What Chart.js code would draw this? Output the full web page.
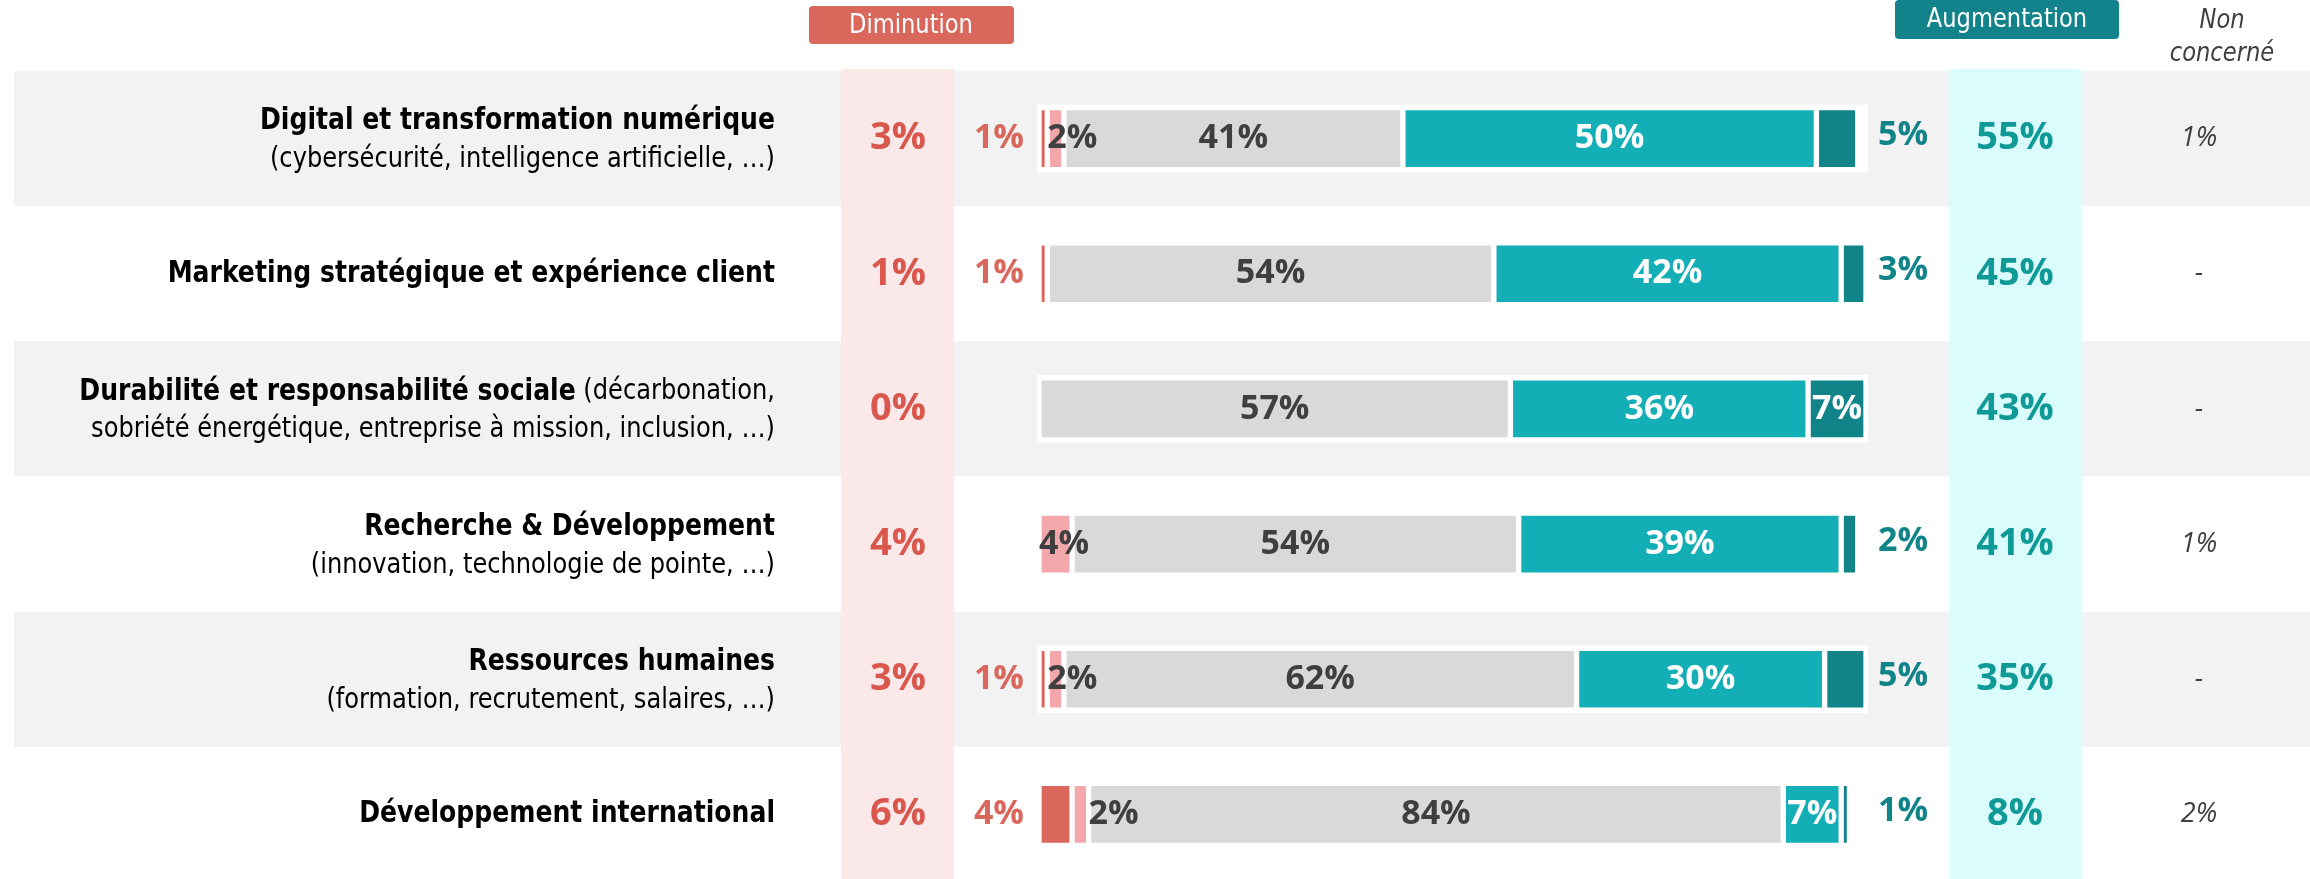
<!DOCTYPE html>
<html lang="fr">
<head>
<meta charset="utf-8">
<title>Évolution des budgets par thème</title>
<script src="https://cdn.jsdelivr.net/npm/chart.js@4.4.1/dist/chart.umd.min.js"></script>
<style>
  html, body { margin: 0; padding: 0; background: #fff; }
  #cadre { width: 2310px; height: 879px; overflow: hidden; }
</style>
</head>
<body>
<div id="cadre"><canvas id="graphique" width="2310" height="890"></canvas></div>
<script>
// Libellés des thèmes : partie en gras, suite en maigre sur la même ligne, seconde ligne
const themesGras = [
  'Digital et transformation numérique',
  'Marketing stratégique et expérience client',
  'Durabilité et responsabilité sociale',
  'Recherche & Développement',
  'Ressources humaines',
  'Développement international'
];
const themesSuite = ['', '', ' (décarbonation,', '', '', ''];
const themesLigne2 = [
  '(cybersécurité, intelligence artificielle, …)',
  '',
  'sobriété énergétique, entreprise à mission, inclusion, …)',
  '(innovation, technologie de pointe, …)',
  '(formation, recrutement, salaires, …)',
  ''
];

// Répartition des réponses (en %)
const forteDiminution = [1, 1, 0, 0, 1, 4];
const legereDiminution = [2, 0, 0, 4, 2, 2];
const stable = [41, 54, 57, 54, 62, 84];
const legereAugmentation = [50, 42, 36, 39, 30, 7];
const forteAugmentation = [5, 3, 7, 2, 5, 1];

// Totaux affichés dans les colonnes
const totalDiminution = [3, 1, 0, 4, 3, 6];
const totalAugmentation = [55, 45, 43, 41, 35, 8];
const nonConcerne = [1, null, null, 1, null, 2];

const ROUGE = '#d9675c';
const ROSE = '#f4a7aa';
const GRIS = '#d9d9d9';
const TURQUOISE = '#14afb6';
const BLEU_CANARD = '#11848a';
const TEXTE = '#3f3f3f';
const ETROITE = '"Liberation Sans Narrow", "DejaVu Sans Condensed", "Roboto Condensed", "Liberation Sans", sans-serif';
const CHIFFRES = '"Open Sans", "Noto Sans", sans-serif';

// texte resserré horizontalement (la police d'origine est condensée)
function texteEtroit(ctx, texte, x, y, serrage) {
  ctx.save();
  ctx.translate(x, y);
  ctx.scale(serrage, 1);
  ctx.fillText(texte, 0, 0);
  ctx.restore();
}

const decor = {
  id: 'decor',
  beforeDraw(chart) {
    const { ctx, scales: { x, y } } = chart;
    const pas = y.getPixelForValue(1) - y.getPixelForValue(0);
    ctx.save();
    // une ligne sur deux sur fond gris
    themesGras.forEach((t, i) => {
      if (i % 2 === 0) {
        ctx.fillStyle = '#f2f2f2';
        ctx.fillRect(14, y.getPixelForValue(i) - pas / 2, chart.width - 14, pas);
      }
    });
    // colonnes des totaux
    const haut = y.getPixelForValue(0) - pas / 2 - 2;
    ctx.fillStyle = '#fbe8e8';
    ctx.fillRect(841, haut, 113, chart.height);
    ctx.fillStyle = '#dafcfc';
    ctx.fillRect(1950, haut, 131, chart.height);
    // cadre blanc derrière chaque barre
    ctx.fillStyle = '#ffffff';
    themesGras.forEach((t, i) => {
      const cy = y.getPixelForValue(i);
      ctx.fillRect(x.getPixelForValue(0) - 2, cy - 34, x.getPixelForValue(100) - x.getPixelForValue(0) + 4, 68);
    });
    ctx.restore();
  },
  afterDatasetsDraw(chart) {
    const { ctx, scales: { x, y } } = chart;
    ctx.save();
    ctx.textBaseline = 'middle';
    const barre = (d, i) => chart.getDatasetMeta(d).data[i];

    themesGras.forEach((t, i) => {
      const cy = y.getPixelForValue(i);

      // libellés à gauche
      ctx.textAlign = 'right';
      ctx.fillStyle = '#000';
      const droite = 775;
      const deuxLignes = themesLigne2[i] !== '';
      const y1 = deuxLignes ? cy - 17 : cy;
      ctx.font = '29px ' + ETROITE;
      const largeurSuite = ctx.measureText(themesSuite[i]).width * 0.925;
      if (themesSuite[i]) texteEtroit(ctx, themesSuite[i], droite, y1, 0.925);
      ctx.font = 'bold 30px ' + ETROITE;
      texteEtroit(ctx, t, droite - largeurSuite, y1, 0.93);
      if (deuxLignes) {
        ctx.font = '29px ' + ETROITE;
        texteEtroit(ctx, themesLigne2[i], droite, cy + 21, 0.925);
      }

      // valeurs dans et autour des barres
      ctx.font = 'bold 34px ' + CHIFFRES;
      if (forteDiminution[i] > 0) {
        ctx.textAlign = 'right';
        ctx.fillStyle = ROUGE;
        ctx.fillText(forteDiminution[i] + '%', x.getPixelForValue(0) - 15, cy);
      }
      if (legereDiminution[i] > 0) {
        const b = barre(1, i);
        ctx.textAlign = 'left';
        ctx.fillStyle = TEXTE;
        const depart = forteDiminution[i] > 2 ? b.x : b.base;
        ctx.fillText(legereDiminution[i] + '%', depart, cy);
      }
      let b = barre(2, i);
      ctx.textAlign = 'center';
      ctx.fillStyle = TEXTE;
      ctx.fillText(stable[i] + '%', (b.x + b.base) / 2, cy);
      b = barre(3, i);
      ctx.fillStyle = '#fff';
      ctx.fillText(legereAugmentation[i] + '%', (b.x + b.base) / 2, cy);
      b = barre(4, i);
      if (forteAugmentation[i] >= 6) {
        ctx.fillStyle = '#fff';
        ctx.fillText(forteAugmentation[i] + '%', (b.x + b.base) / 2, cy);
      } else {
        ctx.textAlign = 'left';
        ctx.fillStyle = BLEU_CANARD;
        ctx.fillText(forteAugmentation[i] + '%', x.getPixelForValue(100) + 12, cy - 3);
      }

      // totaux
      ctx.textAlign = 'center';
      ctx.font = 'bold 38px ' + CHIFFRES;
      ctx.fillStyle = '#d9574d';
      ctx.fillText(totalDiminution[i] + '%', 898, cy);
      ctx.fillStyle = '#0f9a97';
      ctx.fillText(totalAugmentation[i] + '%', 2015, cy);
      ctx.font = 'italic 27px ' + CHIFFRES;
      ctx.fillStyle = '#404040';
      ctx.fillText(nonConcerne[i] === null ? '-' : nonConcerne[i] + '%', 2199, cy);
    });

    // en-têtes
    ctx.fillStyle = ROUGE;
    ctx.beginPath();
    ctx.roundRect(809, 6, 205, 38, 4);
    ctx.fill();
    ctx.fillStyle = '#12838a';
    ctx.beginPath();
    ctx.roundRect(1895, 0, 224, 39, 4);
    ctx.fill();
    ctx.fillStyle = '#fff';
    ctx.font = '27px ' + ETROITE;
    texteEtroit(ctx, 'Diminution', 911, 26, 0.93);
    texteEtroit(ctx, 'Augmentation', 2007, 20, 0.93);
    ctx.fillStyle = '#404040';
    ctx.font = 'italic 27px ' + ETROITE;
    texteEtroit(ctx, 'Non', 2222, 21, 0.93);
    texteEtroit(ctx, 'concerné', 2222, 54, 0.93);
    ctx.restore();
  }
};

const serie = (label, data, couleur) => ({
  label, data,
  backgroundColor: couleur,
  borderColor: '#ffffff',
  borderWidth: 3,
  borderSkipped: false,
  barThickness: 62
});

new Chart(document.getElementById('graphique'), {
  type: 'bar',
  data: {
    labels: themesGras,
    datasets: [
      serie('Forte diminution', forteDiminution, ROUGE),
      serie('Légère diminution', legereDiminution, ROSE),
      serie('Stable', stable, GRIS),
      serie('Légère augmentation', legereAugmentation, TURQUOISE),
      serie('Forte augmentation', forteAugmentation, BLEU_CANARD)
    ]
  },
  options: {
    indexAxis: 'y',
    responsive: false,
    animation: false,
    layout: { padding: { left: 1039, right: 444, top: 71, bottom: 8 } },
    scales: {
      x: { stacked: true, min: 0, max: 100, display: false },
      y: { stacked: true, display: false }
    },
    plugins: {
      legend: { display: false },
      tooltip: { enabled: false }
    }
  },
  plugins: [decor]
});
</script>
</body>
</html>
